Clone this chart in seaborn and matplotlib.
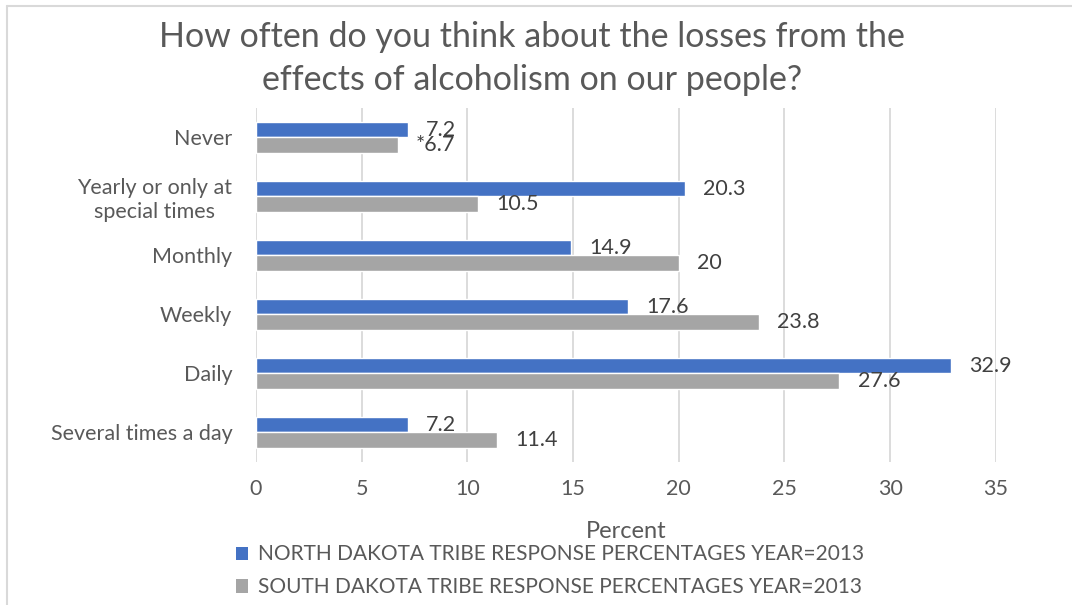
import matplotlib
matplotlib.use("Agg")
import matplotlib.pyplot as plt
import seaborn as sns
import pandas as pd
from matplotlib.lines import Line2D
from matplotlib.patches import Patch

categories = ["Never", "Yearly or only at\nspecial times", "Monthly", "Weekly", "Daily", "Several times a day"]
north = [7.2, 20.3, 14.9, 17.6, 32.9, 7.2]
south = [6.7, 10.5, 20.0, 23.8, 27.6, 11.4]
north_labels = ["7.2", "20.3", "14.9", "17.6", "32.9", "7.2"]
south_labels = ["*6.7", "10.5", "20", "23.8", "27.6", "11.4"]
series = ["NORTH DAKOTA TRIBE RESPONSE PERCENTAGES YEAR=2013",
          "SOUTH DAKOTA TRIBE RESPONSE PERCENTAGES YEAR=2013"]
colors = ["#4472C4", "#A5A5A5"]

df = pd.DataFrame({
    "Category": categories * 2,
    "Value": north + south,
    "Series": [series[0]] * len(categories) + [series[1]] * len(categories),
})

sns.set_theme(style="white")
plt.rcParams["font.family"] = ["Lato", "DejaVu Sans"]
txt = "#595959"

fig = plt.figure(figsize=(10.72, 6.05), dpi=100)
ax = fig.add_axes([0.2388, 0.2364, 0.929 - 0.2388, 0.8215 - 0.2364])

sns.barplot(data=df, y="Category", x="Value", hue="Series", order=categories,
            hue_order=series, palette=colors, orient="h", width=0.51,
            saturation=1, ax=ax, legend=False)

ax.set_xlim(0, 35)
ax.set_xticks(range(0, 36, 5))
ax.xaxis.grid(True, color="#D9D9D9", linewidth=1.3)
ax.yaxis.grid(False)
ax.set_axisbelow(True)
for s in ax.spines.values():
    s.set_visible(False)
ax.tick_params(axis="both", length=0, labelsize=15.5, labelcolor=txt)
ax.tick_params(axis="x", pad=12)
ax.tick_params(axis="y", pad=17)
for lbl in ax.get_yticklabels():
    lbl.set_multialignment("center")
ax.set_ylabel("")
ax.set_xlabel("Percent", fontsize=17, color=txt, labelpad=16)

for cont, labs in zip(ax.containers, [north_labels, south_labels]):
    ax.bar_label(cont, labels=labs, padding=13, fontsize=15.5, color="#404040")

fig.suptitle("How often do you think about the losses from the\neffects of alcoholism on our people?",
             x=0.496, y=0.966, fontsize=24.5, color=txt, linespacing=1.45)

handles = [Patch(facecolor=c, edgecolor="none") for c in colors]
fig.legend(handles, series, loc="upper left", bbox_to_anchor=(0.220, 0.100),
           frameon=False, fontsize=15, labelcolor=txt, handlelength=0.6,
           handleheight=0.6, handletextpad=0.45, labelspacing=0.62,
           borderaxespad=0, borderpad=0)

fig.add_artist(Line2D([7 / 1072, 7 / 1072], [1 - 6 / 605, 0], transform=fig.transFigure,
                      color="#D9D9D9", linewidth=1.5))
fig.add_artist(Line2D([7 / 1072, 1], [1 - 6 / 605, 1 - 6 / 605], transform=fig.transFigure,
                      color="#D9D9D9", linewidth=1.5))

fig.savefig("out.png", dpi=100)
